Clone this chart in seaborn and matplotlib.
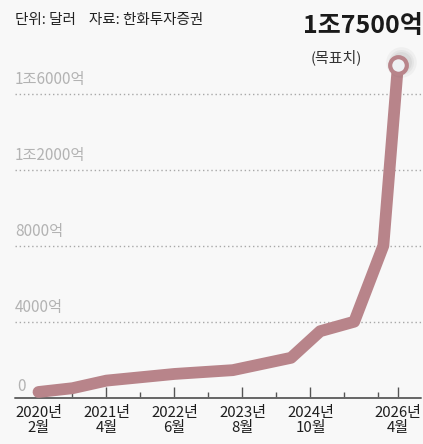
import numpy as np
import pandas as pd
import matplotlib
matplotlib.use("Agg")
import matplotlib.pyplot as plt
import matplotlib.transforms as mtransforms
import seaborn as sns

# ---- data ----
dates = ["2020-02", "2020-09", "2021-04", "2022-06", "2023-06",
         "2024-06", "2024-12", "2025-07", "2026-01", "2026-04"]
values = [300, 500, 900, 1250, 1450, 2100, 3500, 4000, 8000, 17500]  # 억 달러

major_tick_dates = ["2020-02", "2021-04", "2022-06", "2023-08", "2024-10", "2026-04"]
major_tick_labels = ["2020년\n2월", "2021년\n4월", "2022년\n6월",
                     "2023년\n8월", "2024년\n10월", "2026년\n4월"]
minor_tick_dates = ["2020-09", "2021-11", "2023-01", "2024-03", "2025-05", "2025-12"]

grid_values = [4000, 8000, 12000, 16000]
grid_labels = ["4000억", "8000억", "1조2000억", "1조6000억"]

header = "단위: 달러    자료: 한화투자증권"
target_label = "1조7500억"
target_sub = "(목표치)"


def month_index(s, origin="2020-02"):
    y, m = map(int, s.split("-"))
    oy, om = map(int, origin.split("-"))
    return (y - oy) * 12 + (m - om)


df = pd.DataFrame({"month": [month_index(d) for d in dates], "value": values})

# ---- style ----
sns.set_theme(style="white")
plt.rcParams["font.family"] = ["Noto Sans CJK KR", "DejaVu Sans"]

LINE = "#b8848a"
BG = "#f8f8f8"

W, H = 423, 444
fig = plt.figure(figsize=(W / 100, H / 100), dpi=100, facecolor=BG)
left_px, right_px, base_px, top_px = 15, 423, 397.7, 40
ax = fig.add_axes([left_px / W, (H - base_px) / H,
                   (right_px - left_px) / W, (base_px - top_px) / H])
ax.set_facecolor("none")

px_per_month = 4.857
x0_px = 38.5
ax.set_xlim((left_px - x0_px) / px_per_month, (right_px - x0_px) / px_per_month)
val_per_px = 4000 / 76.0
ax.set_ylim(0, (base_px - top_px) * val_per_px)

for s in ax.spines.values():
    s.set_visible(False)

# gridlines
for v in grid_values:
    ax.axhline(v, color="#a8a8a8", lw=1.0, linestyle=(0, (1, 2)), zorder=1)
# baseline
ax.axhline(0, xmin=0, xmax=(420.7 - left_px) / (right_px - left_px),
           color="#666666", lw=1.4, zorder=2, clip_on=False)

# y labels above gridlines
for v, lab in zip(grid_values, grid_labels):
    tr = mtransforms.offset_copy(ax.get_yaxis_transform(), fig=fig, x=0, y=14.5 * 0.72, units="points")
    ax.text(0, v, lab, transform=tr, ha="left", va="center", fontsize=11,
            color="#b3b3b3")
tr0 = mtransforms.offset_copy(ax.get_yaxis_transform(), fig=fig, x=1.5, y=11 * 0.72, units="points")
ax.text(0, 0, "0", transform=tr0, ha="left", va="center", fontsize=11, color="#b3b3b3")

# line
sns.lineplot(data=df, x="month", y="value", ax=ax, color=LINE, linewidth=8.5,
             solid_capstyle="round", solid_joinstyle="round", zorder=5, clip_on=False)

# end marker shadow + marker
last = df.iloc[-1]
for a, s in [(0.05, 22), (0.06, 18), (0.07, 15)]:
    trs = mtransforms.offset_copy(ax.transData, fig=fig, x=2.5, y=2.0, units="points")
    ax.plot([last["month"]], [last["value"]], marker="o", ms=s, mfc="#555555",
            mec="none", alpha=a, transform=trs, zorder=6, clip_on=False)
ax.plot([last["month"]], [last["value"]], marker="o", ms=12, mew=3,
        mfc="#eef0f3", mec=LINE, zorder=7, clip_on=False)

# x ticks
ax.set_xticks([month_index(d) for d in major_tick_dates])
ax.set_xticklabels(major_tick_labels, fontsize=10.8, color="#1e1e1e",
                   linespacing=1.1, fontweight="medium")
ax.set_xticks([month_index(d) for d in minor_tick_dates], minor=True)
ax.tick_params(axis="x", which="major", direction="in", length=8, width=1.0,
               color="#555555", pad=6, bottom=True)
ax.tick_params(axis="x", which="minor", direction="in", length=4.5, width=1.0,
               color="#555555", bottom=True)
ax.set_yticks([])
ax.set_xlabel("")
ax.set_ylabel("")

# header and annotation
fig.text(15 / W, 1 - 20 / H, header, ha="left", va="center", fontsize=10.5,
         color="#222222", fontweight="medium")
fig.text(303 / W, 1 - 26 / H, target_label, ha="left", va="center", fontsize=18,
         fontweight="bold", color="#1a1a1a")
fig.text(311 / W, 1 - 57 / H, target_sub, ha="left", va="center", fontsize=10.8,
         color="#333333")

fig.savefig("out.png", dpi=100, facecolor=BG)
